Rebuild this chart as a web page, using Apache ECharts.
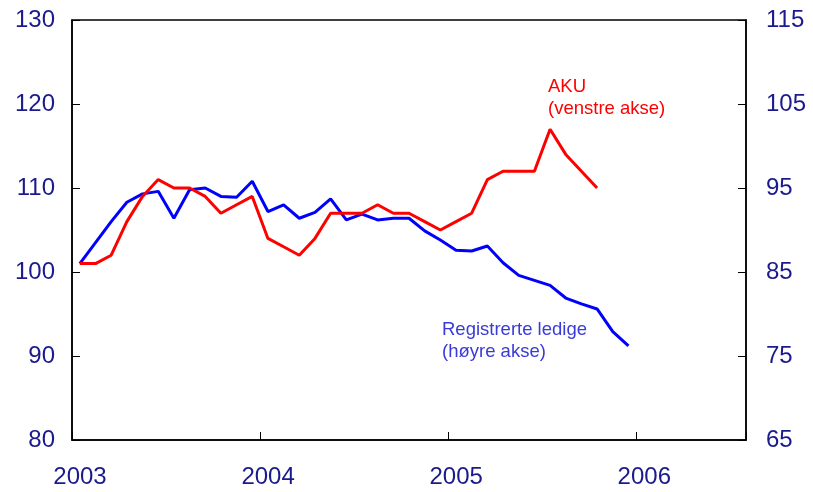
<!DOCTYPE html>
<html>
<head>
<meta charset="utf-8">
<script src="https://cdn.jsdelivr.net/npm/echarts@6/dist/echarts.min.js"></script>
<style>
  html,body{margin:0;padding:0;background:#fff;}
  #chart{width:813px;height:492px;}
</style>
</head>
<body>
<div id="chart"></div>
<script>
// månedlige tall, første punkt = januar 2003
const startYear = 2003
const yearLabels = ['2003', '2004', '2005', '2006']
// AKU (venstre akse)
const aku = [101, 101, 102, 106, 109, 111, 110, 110, 109, 107, 108, 109,
  104, 103, 102, 104, 107, 107, 107, 108, 107, 107, 106, 105,
  106, 107, 111, 112, 112, 112, 117, 114, 112, 110]
// Registrerte ledige (høyre akse)
const ledige = [86.0, 88.5, 91.0, 93.3, 94.3, 94.6, 91.4, 94.8, 95.0, 94.0, 93.9, 95.8,
  92.2, 93.0, 91.4, 92.1, 93.7, 91.2, 91.9, 91.2, 91.4, 91.4, 89.9, 88.8,
  87.6, 87.5, 88.1, 86.1, 84.6, 84.0, 83.4, 81.9, 81.2, 80.6, 77.9, 76.2]

const toPoints = arr => arr.map((v, i) => [i + 0.5, v])

const navy = '#1a1a8c'
const font = 'Liberation Sans, Arial, sans-serif'

const chart = echarts.init(document.getElementById('chart'))

chart.setOption({
  animation: false,
  grid: {
    left: 72, right: 67, top: 20, bottom: 52,
    show: true, borderColor: '#000', borderWidth: 1.5
  },
  xAxis: {
    type: 'value',
    min: 0,
    max: 43,
    interval: 12,
    axisLine: { show: true, lineStyle: { color: '#000', width: 1.5 } },
    axisTick: { show: true, inside: true, length: 8, lineStyle: { color: '#000' } },
    splitLine: { show: false },
    axisLabel: {
      color: navy, fontSize: 24, fontFamily: font, margin: 25,
      padding: [0, 0, 0, 16],
      formatter: v => yearLabels[v / 12] || ''
    }
  },
  yAxis: [
    {
      type: 'value', min: 80, max: 130, interval: 10, position: 'left',
      axisLine: { show: true, lineStyle: { color: '#000', width: 1.5 } },
      axisTick: { show: true, inside: true, length: 8, lineStyle: { color: '#000' } },
      splitLine: { show: false },
      axisLabel: { color: navy, fontSize: 24, fontFamily: font, margin: 17 }
    },
    {
      type: 'value', min: 65, max: 115, interval: 10, position: 'right',
      axisLine: { show: true, lineStyle: { color: '#000', width: 1.5 } },
      axisTick: { show: true, inside: true, length: 8, lineStyle: { color: '#000' } },
      splitLine: { show: false },
      axisLabel: { color: navy, fontSize: 24, fontFamily: font, margin: 20 }
    }
  ],
  series: [
    {
      name: 'AKU',
      type: 'line',
      yAxisIndex: 0,
      data: toPoints(aku),
      symbol: 'none',
      lineStyle: { color: '#ff0000', width: 3 },
      z: 3
    },
    {
      name: 'Registrerte ledige',
      type: 'line',
      yAxisIndex: 1,
      data: toPoints(ledige),
      symbol: 'none',
      lineStyle: { color: '#0000ff', width: 3 },
      z: 2
    }
  ],
  graphic: [
    {
      type: 'text', left: 548, top: 76,
      style: { text: 'AKU\n(venstre akse)', fill: '#ff0000', font: '18.5px ' + font, lineHeight: 22 }
    },
    {
      type: 'text', left: 442, top: 319,
      style: { text: 'Registrerte ledige\n(høyre akse)', fill: '#3a3ad8', font: '18.5px ' + font, lineHeight: 22 }
    }
  ]
})
</script>
</body>
</html>
